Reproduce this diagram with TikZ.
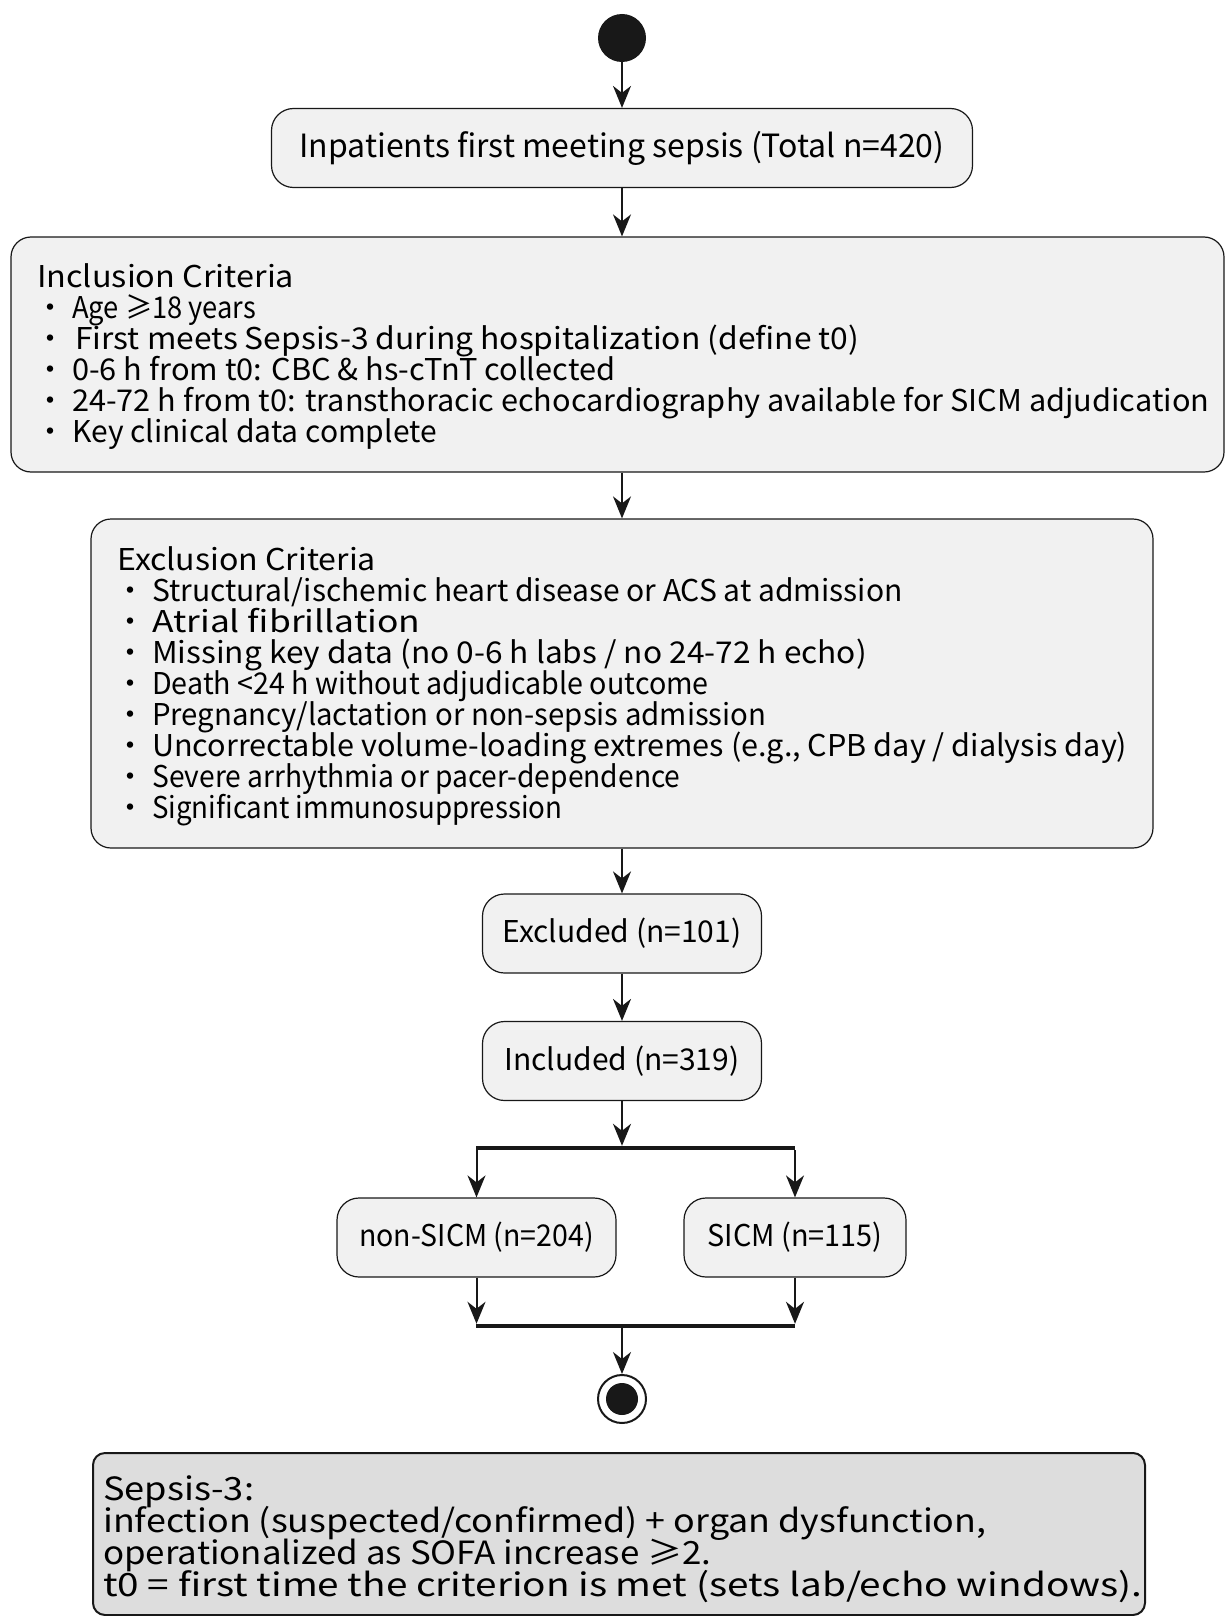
\documentclass[tikz,border=0pt]{standalone}
\usepackage{fontspec}
\setmainfont{Noto Sans CJK SC}
\usepackage{tikz}
\usetikzlibrary{arrows.meta}
\definecolor{ink}{HTML}{181818}
\definecolor{actfill}{HTML}{F1F1F1}
\definecolor{notefill}{HTML}{DDDDDD}
\newcommand{\tightlines}{\lineskiplimit-100pt\relax}
\tikzstyle{txt}=[font={\fontsize{30pt}{31pt}\selectfont\tightlines}]
\tikzstyle{act}=[txt, draw=ink, fill=actfill, line width=1.2pt, rounded corners=22pt, inner sep=0pt, minimum height=79pt]
\tikzstyle{crit}=[draw=ink, fill=actfill, line width=1.2pt, rounded corners=20pt]
\tikzstyle{list}=[txt, anchor=base west, align=left, inner sep=0pt]
\tikzstyle{flow}=[draw=ink, line width=2pt, -{Stealth[length=22pt,width=18pt,inset=7pt]}]
\tikzstyle{bar}=[fill=ink, inner sep=0pt, minimum width=319pt, minimum height=4pt]
\newcommand{\bul}{\hspace*{-2pt}\makebox[37pt][l]{·}}
\newcommand{\sx}[2]{\scalebox{#1}[1]{#2}}

\begin{document}
\begin{tikzpicture}[x=1pt,y=-1pt]
\useasboundingbox (0,0) rectangle (1227,1616);
\node[circle, fill=ink, minimum size=48pt, inner sep=0pt] (start) at (622,38) {};
\node[act, minimum width=701pt, font={\fontsize{32pt}{33pt}\selectfont}] (pop) at (622,148) {Inpatients first meeting sepsis (Total n=420)};
\node[crit, minimum width=1213pt, minimum height=235pt] (incl) at (617.5,354.5) {};
\node[list] (incltxt) at (37,442) {\sx{1.08}{Inclusion Criteria}\\
\bul\sx{0.91}{Age ≥18 years}\\
\bul\hspace*{3pt}\sx{1.06}{First meets Sepsis-3 during hospitalization (define t0)}\\
\bul\sx{1.025}{0-6 h from t0: CBC \& hs-cTnT collected}\\
\bul\sx{1.023}{24-72 h from t0: transthoracic echocardiography available for SICM adjudication}\\
\bul Key clinical data complete};
\node[crit, minimum width=1062pt, minimum height=329pt] (excl) at (622,683.5) {};
\node[list] (excltxt) at (117,818) {\sx{1.07}{Exclusion Criteria}\\
\bul Structural/ischemic heart disease or ACS at admission\\
\bul\sx{1.18}{Atrial fibrillation}\\
\bul\sx{1.055}{Missing key data (no 0-6 h labs / no 24-72 h echo)}\\
\bul\sx{0.955}{Death <24 h without adjudicable outcome}\\
\bul\sx{0.978}{Pregnancy/lactation or non-sepsis admission}\\
\bul\sx{1.02}{Uncorrectable volume-loading extremes (e.g., CPB day / dialysis day)}\\
\bul\sx{0.94}{Severe arrhythmia or pacer-dependence}\\
\bul\sx{0.923}{Significant immunosuppression}};
\node[act, minimum width=279pt] (excluded) at (622,933.5) {Excluded (n=101)};
\node[act, minimum width=279pt] (included) at (622,1061) {Included (n=319)};
\node[bar] (fork) at (635.5,1148) {};
\node[act, minimum width=279pt] (nonsicm) at (476.5,1237.5) {\sx{0.95}{non-SICM (n=204)}};
\node[act, minimum width=222pt] (sicm) at (795,1237.5) {\sx{0.96}{SICM (n=115)}};
\node[bar] (join) at (635.5,1326) {};
\node[circle, draw=ink, line width=2pt, fill=white, minimum size=48pt, inner sep=0pt] (stop) at (622,1399) {};
\fill[ink] (stop.center) circle (16pt);
\node[draw=ink, fill=notefill, line width=2pt, rounded corners=12pt, minimum width=1052pt, minimum height=162pt] (note) at (619,1534) {};
\node[list, font={\fontsize{32pt}{32pt}\selectfont\tightlines}] (notetxt) at (103,1596) {\sx{1.13}{Sepsis-3:}\\
\sx{1.12}{infection (suspected/confirmed) + organ dysfunction,}\\
\sx{1.09}{operationalized as SOFA increase ≥2.}\\
\sx{1.21}{t0 = first time the criterion is met (sets lab/echo windows).}};
\draw[flow] (start) -- (pop);
\draw[flow] (pop.south) -- (pop.south |- incl.north);
\draw[flow] (excl.north |- incl.south) -- (excl.north);
\draw[flow] (excl.south) -- (excluded.north);
\draw[flow] (excluded.south) -- (included.north);
\draw[flow] (included.south) -- (included.south |- fork.north);
\draw[flow] (nonsicm.north |- fork.south) -- (nonsicm.north);
\draw[flow] (sicm.north |- fork.south) -- (sicm.north);
\draw[flow] (nonsicm.south) -- (nonsicm.south |- join.north);
\draw[flow] (sicm.south) -- (sicm.south |- join.north);
\draw[flow] (stop |- join.south) -- (stop.north);
\end{tikzpicture}
\end{document}
